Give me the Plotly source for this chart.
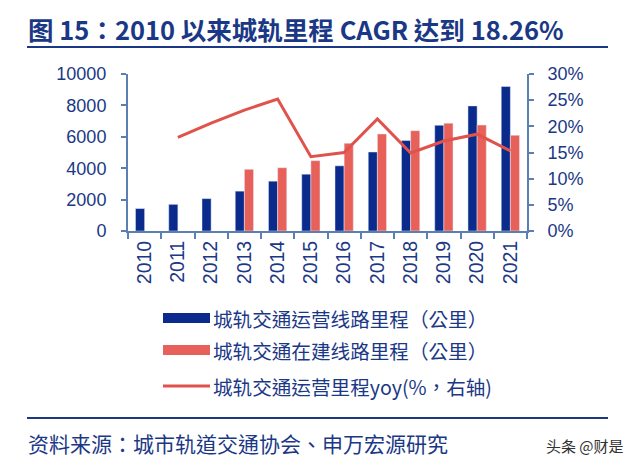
import plotly.graph_objects as go

years = ["2010", "2011", "2012", "2013", "2014", "2015", "2016", "2017", "2018", "2019", "2020", "2021"]
operating_km = [1429, 1699, 2064, 2539, 3173, 3618, 4153, 5033, 5761, 6736, 7969, 9206]
construction_km = [None, None, None, 3930, 4030, 4480, 5590, 6180, 6390, 6870, 6750, 6100]
operating_yoy = [None, 0.179, 0.206, 0.231, 0.252, 0.142, 0.150, 0.214, 0.149, 0.172, 0.185, 0.153]

name_op = "城轨交通运营线路里程（公里）"
name_con = "城轨交通在建线路里程（公里）"
name_yoy = "城轨交通运营里程yoy(%，右轴)"
title_text = "图 15：2010 以来城轨里程 CAGR 达到 18.26%"
source_text = "资料来源：城市轨道交通协会、申万宏源研究"
watermark = "头条 @财是"

BLUE = "#0a2b8c"
RED = "#e8605a"
LINE = "#e0534d"
NAVY = "#1b3886"
AXIS = "#5b7fb3"
FONT = "Liberation Sans, Arial, Noto Sans CJK TC, sans-serif"
CJK = "Noto Sans CJK TC, sans-serif"

W, H = 640, 467
L, R, T, B = 128, 113, 74, 236
PW, PH = W - L - R, H - T - B


def px(x):
    return (x - L) / PW


def py(y):
    return (H - B - y) / PH


fig = go.Figure()
fig.add_trace(go.Bar(x=years, y=operating_km, name=name_op, marker_color=BLUE, showlegend=False))
fig.add_trace(go.Bar(x=years, y=construction_km, name=name_con, marker_color=RED, showlegend=False))
fig.add_trace(go.Scatter(x=years, y=operating_yoy, name=name_yoy, mode="lines",
                         line=dict(color=LINE, width=3), yaxis="y2", showlegend=False))

shapes = [
    dict(type="line", xref="paper", yref="paper", x0=px(27), x1=px(608), y0=py(47), y1=py(47),
         line=dict(color=NAVY, width=2)),
    dict(type="line", xref="paper", yref="paper", x0=px(27), x1=px(608), y0=py(418), y1=py(418),
         line=dict(color=NAVY, width=2)),
    dict(type="rect", xref="paper", yref="paper", x0=px(163), x1=px(210), y0=py(313), y1=py(323),
         fillcolor=BLUE, line=dict(width=0)),
    dict(type="rect", xref="paper", yref="paper", x0=px(163), x1=px(210), y0=py(345), y1=py(355),
         fillcolor=RED, line=dict(width=0)),
    dict(type="line", xref="paper", yref="paper", x0=px(163), x1=px(210), y0=py(386), y1=py(386),
         line=dict(color=LINE, width=3)),
]

annotations = [
    dict(text="<b>" + title_text + "</b>", x=px(26), y=py(28), xref="paper", yref="paper",
         xanchor="left", yanchor="middle", showarrow=False, font=dict(family=CJK, size=25.5, color=NAVY)),
    dict(text=source_text, x=px(26), y=py(443), xref="paper", yref="paper",
         xanchor="left", yanchor="middle", showarrow=False, font=dict(family=CJK, size=21, color=NAVY)),
    dict(text=watermark, x=px(626), y=py(445), xref="paper", yref="paper",
         xanchor="right", yanchor="middle", showarrow=False, font=dict(family=CJK, size=15, color="#333333")),
]
for name, yc in [(name_op, 318), (name_con, 350), (name_yoy, 386)]:
    annotations.append(dict(text=name, x=px(211), y=py(yc), xref="paper", yref="paper",
                            xanchor="left", yanchor="middle", showarrow=False,
                            font=dict(family=CJK, size=19.6, color=NAVY)))

fig.update_layout(
    width=W, height=H,
    margin=dict(l=L, r=R, t=T, b=B, pad=0),
    paper_bgcolor="white", plot_bgcolor="white",
    barmode="group", bargap=0.45, bargroupgap=0,
    font=dict(family=FONT, size=18, color=NAVY),
    xaxis=dict(type="category", showline=True, linecolor=AXIS, linewidth=2,
               ticks="outside", tickson="boundaries", ticklen=6, tickcolor=AXIS, tickwidth=1.5,
               tickangle=-90, tickfont=dict(size=19.5, color=NAVY), showgrid=False, zeroline=False),
    yaxis=dict(range=[0, 10000], dtick=2000, tickformat="d", showline=True, linecolor=AXIS, linewidth=2,
               ticks="outside", ticklen=5, tickcolor=AXIS, tickwidth=1.5, showgrid=False, zeroline=False,
               ticklabelstandoff=11, tickfont=dict(size=18, color=NAVY)),
    yaxis2=dict(range=[0, 0.30], dtick=0.05, tickformat=".0%", overlaying="y", side="right",
                showline=True, linecolor=AXIS, linewidth=2, ticks="outside", ticklen=5, tickcolor=AXIS,
                tickwidth=1.5, showgrid=False, zeroline=False, ticklabelstandoff=10,
                tickfont=dict(size=18, color=NAVY)),
    shapes=shapes,
    annotations=annotations,
)

fig.write_html("out.html", config={"displayModeBar": False},
               post_script="document.body.style.margin='0';")
